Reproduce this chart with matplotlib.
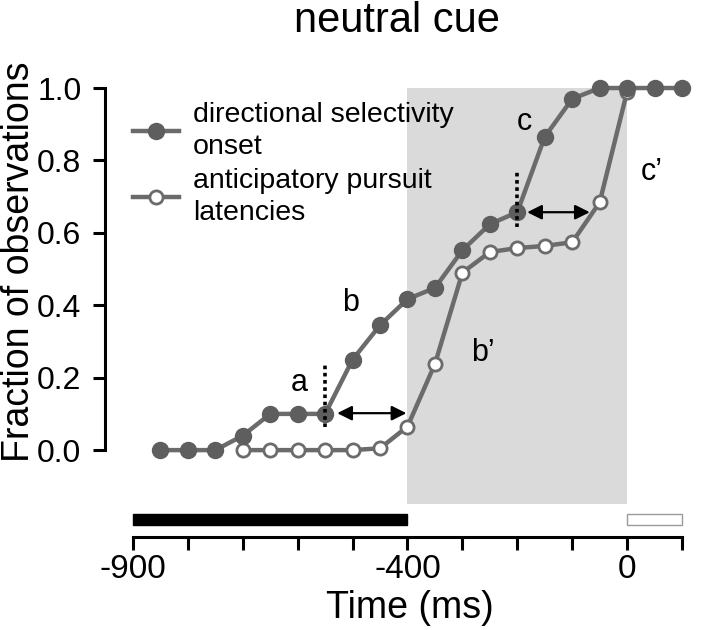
import numpy as np
import matplotlib
matplotlib.use("Agg")
import matplotlib.pyplot as plt
from matplotlib.patches import Rectangle

plt.rcParams['font.family'] = ['Liberation Sans', 'DejaVu Sans']

# bin centres (ms) and cumulative fractions
t_dir = [-850, -800, -750, -700, -650, -600, -550, -500, -450, -400,
         -350, -300, -250, -200, -150, -100, -50, 0, 50, 100]
frac_dir = [0.0, 0.0, 0.0, 0.04, 0.10, 0.10, 0.10, 0.25, 0.345, 0.417,
            0.448, 0.552, 0.624, 0.657, 0.865, 0.97, 1.0, 1.0, 1.0, 1.0]

t_ant = [-700, -650, -600, -550, -500, -450, -400, -350, -300, -250,
         -200, -150, -100, -50, 0]
frac_ant = [0.0, 0.0, 0.0, 0.0, 0.0, 0.005, 0.065, 0.238, 0.49, 0.547,
            0.558, 0.564, 0.574, 0.684, 0.99]

lbl_dir = "directional selectivity\nonset"
lbl_ant = "anticipatory pursuit\nlatencies"

# shaded epoch and cue bars
shade = (-400, 0)
cue_bar = (-900, -400)
open_bar = (0, 100)

# annotations: (text, x, y)
letters = [("a", -597, 0.185), ("b", -503, 0.405), ("c", -188, 0.905),
           ("b\u2019", -263, 0.268), ("c\u2019", 45, 0.768)]
dotted = [(-550, 0.064, 0.235), (-200, 0.617, 0.77)]
arrows = [(-528, -402, 0.102), (-182, -68, 0.657)]

line_col = '#6b6b6b'
dot_col = '#5e5e5e'

fig = plt.figure(figsize=(7.2, 6.3), dpi=100)
ax = fig.add_axes([105 / 720, 0.1476, 577 / 720, 0.7127])
ax.set_xlim(-951, 100)
ax.set_ylim(-0.24, 1.0)

ax.add_patch(Rectangle((shade[0], -0.148), shade[1] - shade[0], 1.148,
                       facecolor='#dadada', edgecolor='none', zorder=0,
                       clip_on=False))
ax.add_patch(Rectangle((cue_bar[0], -0.206), cue_bar[1] - cue_bar[0], 0.03,
                       facecolor='black', edgecolor='black', zorder=1,
                       clip_on=False))
ax.add_patch(Rectangle((open_bar[0], -0.206), open_bar[1] - open_bar[0], 0.03,
                       facecolor='white', edgecolor='#999999', lw=1.0,
                       zorder=1, clip_on=False))

ax.plot(t_ant, frac_ant, '-o', color=line_col, lw=3.2, ms=9.5,
        mfc='white', mec=line_col, mew=2.0, clip_on=False, zorder=3,
        label=lbl_ant)
ax.plot(t_dir, frac_dir, '-o', color=line_col, lw=3.2, ms=11.5,
        mfc=dot_col, mec=dot_col, clip_on=False, zorder=4, label=lbl_dir)

for x, y0, y1 in dotted:
    ax.plot([x, x], [y0, y1], color='black', lw=2.6,
            linestyle=(0, (1, 1)), zorder=5)
for x0, x1, y in arrows:
    ax.annotate('', xy=(x1, y), xytext=(x0, y),
                arrowprops=dict(arrowstyle='<|-|>', color='black', lw=1.6,
                                mutation_scale=22, shrinkA=0, shrinkB=0),
                zorder=5)
for s, x, y in letters:
    ax.text(x, y, s, fontsize=22, ha='center', va='center')

handles, labels = ax.get_legend_handles_labels()
leg = ax.legend(handles[::-1], labels[::-1], loc='upper left',
                bbox_to_anchor=(0.185, 0.838), bbox_transform=fig.transFigure,
                frameon=False, fontsize=20.5, handlelength=1.6,
                handletextpad=0.5, labelspacing=0.3, borderpad=0,
                borderaxespad=0)
for t in leg.get_texts():
    t.set_linespacing(1.28)

for side in ['top', 'right']:
    ax.spines[side].set_visible(False)
ax.spines['left'].set_bounds(0, 1)
ax.spines['bottom'].set_bounds(-900, 100)
ax.spines['left'].set_linewidth(2.2)
ax.spines['bottom'].set_linewidth(2.2)

ax.set_yticks(np.arange(0, 1.01, 0.2))
ax.set_yticklabels(['%.1f' % v for v in np.arange(0, 1.01, 0.2)])
xt = np.arange(-900, 101, 100)
ax.set_xticks(xt)
ax.set_xticklabels([str(v) if v in (-900, -400, 0) else '' for v in xt])
ax.tick_params(axis='both', direction='out', length=9, width=2.2)
ax.tick_params(axis='y', labelsize=23, pad=8)
ax.tick_params(axis='x', labelsize=24, pad=3)

fig.text(29 / 720, 1 - 262 / 630, 'Fraction of observations', fontsize=27,
         rotation=90, rotation_mode='anchor', ha='center', va='baseline')
fig.text(410 / 720, 1 - 618 / 630, 'Time (ms)', fontsize=27,
         ha='center', va='baseline')
fig.text(397 / 720, 1 - 32 / 630, 'neutral cue', fontsize=30,
         ha='center', va='baseline')

fig.savefig('out.png', dpi=100)
